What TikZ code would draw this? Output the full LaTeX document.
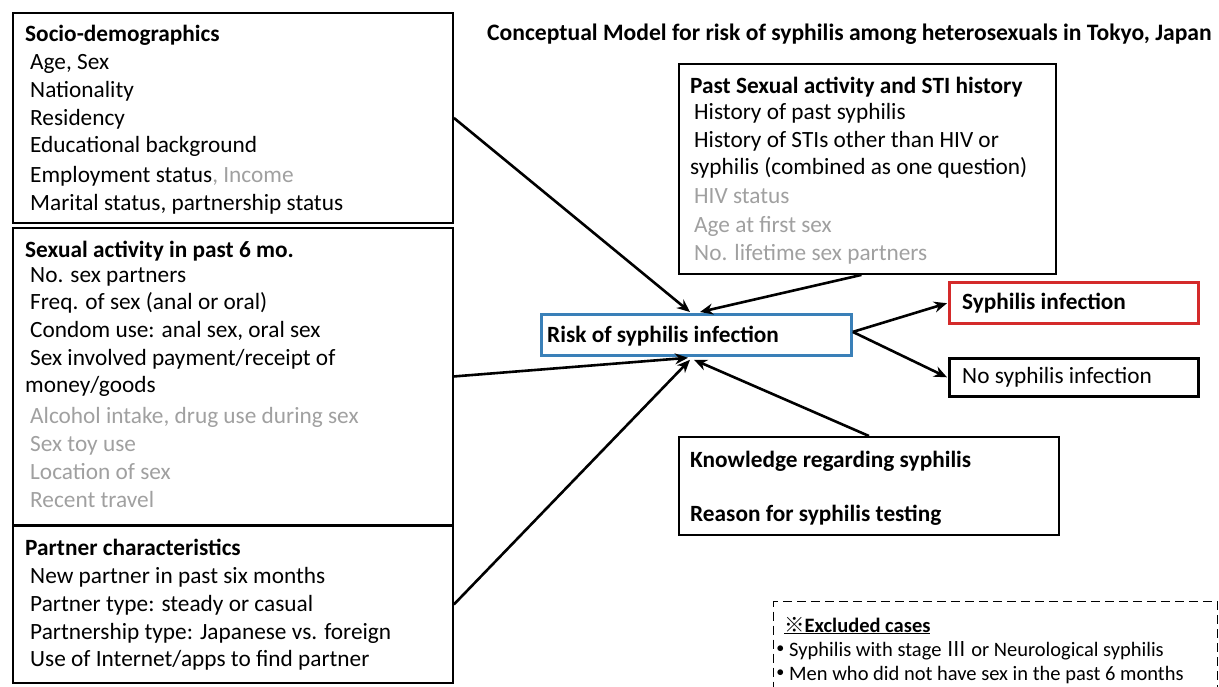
\documentclass[tikz,border=0pt]{standalone}
\usepackage{fontspec}
\setmainfont{Carlito}
\newfontfamily\jp{Noto Sans CJK JP}
\usetikzlibrary{arrows.meta,calc}
\definecolor{gtxt}{HTML}{A0A0A0}
\definecolor{riskblue}{HTML}{3A80B8}
\definecolor{redbox}{HTML}{D42A2A}
\begin{document}
\begin{tikzpicture}[x=1pt,y=-1pt,
  box/.style={draw=black, line width=1.9pt, anchor=north west, inner sep=0pt},
  txt/.style={anchor=base west, inner sep=0pt, yshift=-1.5pt, font=\fontsize{23.3}{28}\selectfont},
  btxt/.style={txt, font=\fontsize{23.3}{28}\selectfont\bfseries},
  stxt/.style={anchor=base west, inner sep=0pt, font=\fontsize{20.5}{24}\selectfont},
  arr/.style={line width=2.6pt, -{Stealth[length=13pt,width=11pt]}}]
\useasboundingbox (0,0) rectangle (1219,686);
\begin{scope}
\clip (0,0) rectangle (1219,686);
% boxes
\node[box, minimum width=440, minimum height=210] (socio) at (12,12) {};
\node[box, minimum width=440, minimum height=297] (sex) at (12,227) {};
\node[box, minimum width=440, minimum height=157] (partner) at (12,525) {};
\node[box, minimum width=377, minimum height=210] (past) at (678,63) {};
\node[box, minimum width=380, minimum height=98] (know) at (678,436) {};
\node[box, draw=riskblue, line width=2.8pt, minimum width=310, minimum height=41] (risk) at (540,313) {};
\node[box, draw=redbox, line width=3.4pt, minimum width=249, minimum height=41] (syph) at (948,281) {};
\node[box, line width=2.6pt, minimum width=249, minimum height=38] (nosyph) at (948,357) {};
\node[draw=black, line width=1.3pt, dash pattern=on 9pt off 5pt, anchor=north west, inner sep=0pt, minimum width=444, minimum height=110] (excl) at (773,601) {};
\end{scope}
% title
\node[btxt] (title) at (487,39) {\fontsize{23.6}{28}\selectfont Conceptual Model for risk of syphilis among heterosexuals in Tokyo, Japan};
% socio
\node[btxt] (s0) at (25,40) {Socio-demographics};
\node[txt] (s1) at (30,68) {Age, Sex};
\node[txt] (s2) at (30,96) {Nationality};
\node[txt] (s3) at (30,124) {Residency};
\node[txt] (s4) at (30,151) {Educational background};
\node[txt] (s5) at (30,181) {Employment status{\color{gtxt}, Income}};
\node[txt] (s6) at (30,209) {Marital status, partnership status};
% sexual activity
\node[btxt] (a0) at (25,256) {Sexual activity in past 6 mo.};
\node[txt] (a1) at (30,281) {No. sex partners};
\node[txt] (a2) at (30,308) {Freq. of sex (anal or oral)};
\node[txt] (a3) at (30,336) {Condom use: anal sex, oral sex};
\node[txt] (a4) at (30,364) {Sex involved payment/receipt of};
\node[txt] (a5) at (25,391) {money/goods};
\node[txt, text=gtxt] (a6) at (30,422) {Alcohol intake, drug use during sex};
\node[txt, text=gtxt] (a7) at (30,450) {Sex toy use};
\node[txt, text=gtxt] (a8) at (30,478) {Location of sex};
\node[txt, text=gtxt] (a9) at (30,506) {Recent travel};
% partner
\node[btxt] (p0) at (25,554) {Partner characteristics};
\node[txt] (p1) at (30,582) {New partner in past six months};
\node[txt] (p2) at (30,610) {Partner type: steady or casual};
\node[txt] (p3) at (30,638) {Partnership type: Japanese vs. foreign};
\node[txt] (p4) at (30,665) {Use of Internet/apps to find partner};
% past
\node[btxt] (h0) at (690,92) {Past Sexual activity and STI history};
\node[txt] (h1) at (694,118) {History of past syphilis};
\node[txt] (h2) at (694,146) {History of STIs other than HIV or};
\node[txt] (h3) at (690,173) {syphilis (combined as one question)};
\node[txt, text=gtxt] (h4) at (694,202) {HIV status};
\node[txt, text=gtxt] (h5) at (694,231) {Age at first sex};
\node[txt, text=gtxt] (h6) at (694,259) {No. lifetime sex partners};
% knowledge
\node[btxt] (k1) at (690,466) {Knowledge regarding syphilis};
\node[btxt] (k2) at (690,520) {Reason for syphilis testing};
% risk and outcomes
\node[btxt] (rt) at (547,341) {Risk of syphilis infection};
\node[btxt] (yt) at (962,308) {Syphilis infection};
\node[txt] (nt) at (962,382) {No syphilis infection};
% excluded
\node[stxt, font=\fontsize{20.5}{24}\selectfont\bfseries] (e0) at (784,632) {\underline{{\jp\mdseries ※}Excluded cases}};
\node[stxt] (e1) at (770,656) {{\jp\bfseries ・}\kern-1.5pt Syphilis with stage {\jp Ⅲ} or Neurological syphilis};
\node[stxt] (e2) at (770,680) {{\jp\bfseries ・}\kern-1.5pt Men who did not have sex in the past 6 months};
% arrows
\draw[arr] (socio.east) -- ($(risk.north west)+(150,-1)$);
\draw[arr] ($(past.south)+(-6,0)$) -- ($(risk.north west)+(160,-1)$);
\draw[arr] (sex.east) -- ($(risk.south west)+(148,1)$);
\draw[arr] (partner.east) -- ($(risk.south west)+(150,3)$);
\draw[arr] (know.north) -- ($(risk.south west)+(154,3)$);
\draw[arr] ($(risk.east)+(0,-3)$) -- ($(syph.west)+(-1,0)$);
\draw[arr] ($(risk.east)+(0,-3)$) -- ($(nosyph.west)+(-1,0)$);
\end{tikzpicture}
\end{document}
